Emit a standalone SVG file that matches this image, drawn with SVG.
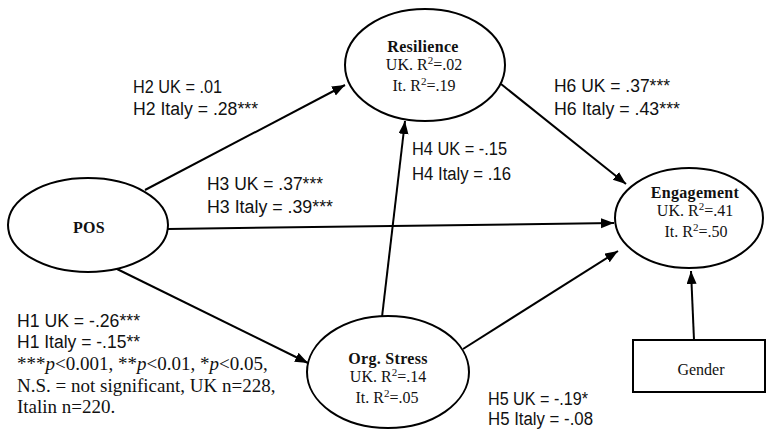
<svg xmlns="http://www.w3.org/2000/svg" width="766" height="434" viewBox="0 0 766 434">
<defs>
<marker id="ah" markerUnits="userSpaceOnUse" markerWidth="15" markerHeight="11" refX="13" refY="5" orient="auto">
<path d="M0,0 L13,5 L0,10 Z" fill="#000"/>
</marker>
<style>
.node{fill:#fff;stroke:#000;stroke-width:2}
.edge{stroke:#000;stroke-width:2;fill:none;marker-end:url(#ah)}
.lab{font-family:"Liberation Serif","Times New Roman",serif;font-size:16px;fill:#111;text-anchor:middle}
.b{font-weight:bold;letter-spacing:0.3px}
.coef{font-family:"Liberation Sans",Arial,sans-serif;font-size:18px;fill:#111}
.note{font-family:"Liberation Serif","Times New Roman",serif;font-size:19px;fill:#111}
</style>
</defs>
<rect width="766" height="434" fill="#fff"/>
<g id="connectors">
<line class="edge" x1="145" y1="190" x2="345" y2="85"/>
<line class="edge" x1="168" y1="229" x2="614" y2="223"/>
<line class="edge" x1="117" y1="269" x2="308" y2="363"/>
<line class="edge" x1="382" y1="317" x2="405" y2="121"/>
<line class="edge" x1="463" y1="349" x2="618" y2="251"/>
<line class="edge" x1="501" y1="84" x2="626" y2="184"/>
<line class="edge" x1="694" y1="340" x2="691" y2="271"/>
</g>
<g id="pos">
<ellipse class="node" cx="88" cy="225" rx="80" ry="47"/>
<text class="lab b" x="89" y="233">POS</text>
</g>
<g id="resilience">
<ellipse class="node" cx="425" cy="65" rx="80" ry="56"/>
<text class="lab b" x="423" y="52">Resilience</text>
<text class="lab" x="424" y="70">UK. R<tspan font-size="11" dy="-6">2</tspan><tspan dy="6">=.02</tspan></text>
<text class="lab" x="424" y="91">It. R<tspan font-size="11" dy="-6">2</tspan><tspan dy="6">=.19</tspan></text>
</g>
<g id="engagement">
<ellipse class="node" cx="689" cy="218" rx="74" ry="50"/>
<text class="lab b" x="695" y="198">Engagement</text>
<text class="lab" x="695" y="216">UK. R<tspan font-size="11" dy="-6">2</tspan><tspan dy="6">=.41</tspan></text>
<text class="lab" x="696" y="237">It. R<tspan font-size="11" dy="-6">2</tspan><tspan dy="6">=.50</tspan></text>
</g>
<g id="orgstress">
<ellipse class="node" cx="388" cy="372" rx="81" ry="56"/>
<text class="lab b" x="388" y="364">Org. Stress</text>
<text class="lab" x="388" y="382">UK. R<tspan font-size="11" dy="-6">2</tspan><tspan dy="6">=.14</tspan></text>
<text class="lab" x="387" y="403">It. R<tspan font-size="11" dy="-6">2</tspan><tspan dy="6">=.05</tspan></text>
</g>
<g id="gender">
<rect class="node" x="633" y="340" width="132" height="52"/>
<text class="lab" x="701" y="375" font-size="15">Gender</text>
</g>
<g id="labels">
<text class="coef" x="133" y="93" textLength="89" lengthAdjust="spacingAndGlyphs">H2 UK = .01</text>
<text class="coef" x="133" y="115" textLength="125" lengthAdjust="spacingAndGlyphs">H2 Italy = .28***</text>
<text class="coef" x="207" y="190" textLength="116" lengthAdjust="spacingAndGlyphs">H3 UK = .37***</text>
<text class="coef" x="207" y="213" textLength="126" lengthAdjust="spacingAndGlyphs">H3 Italy = .39***</text>
<text class="coef" x="412" y="155" textLength="95" lengthAdjust="spacingAndGlyphs">H4 UK = -.15</text>
<text class="coef" x="412" y="180" textLength="99" lengthAdjust="spacingAndGlyphs">H4 Italy = .16</text>
<text class="coef" x="554" y="92" textLength="116" lengthAdjust="spacingAndGlyphs">H6 UK = .37***</text>
<text class="coef" x="554" y="115" textLength="126" lengthAdjust="spacingAndGlyphs">H6 Italy = .43***</text>
<text class="coef" x="488" y="405" textLength="100" lengthAdjust="spacingAndGlyphs">H5 UK = -.19*</text>
<text class="coef" x="488" y="425" textLength="105" lengthAdjust="spacingAndGlyphs">H5 Italy = -.08</text>
<text class="coef" x="17" y="327" textLength="123" lengthAdjust="spacingAndGlyphs">H1 UK = -.26***</text>
<text class="coef" x="17" y="348" textLength="123" lengthAdjust="spacingAndGlyphs">H1 Italy = -.15**</text>
<text class="note" x="17" y="370">***<tspan font-style="italic">p</tspan>&lt;0.001, **<tspan font-style="italic">p</tspan>&lt;0.01, *<tspan font-style="italic">p</tspan>&lt;0.05,</text>
<text class="note" x="17" y="392">N.S. = not significant, UK n=228,</text>
<text class="note" x="17" y="413">Italin n=220.</text>
</g>
</svg>
